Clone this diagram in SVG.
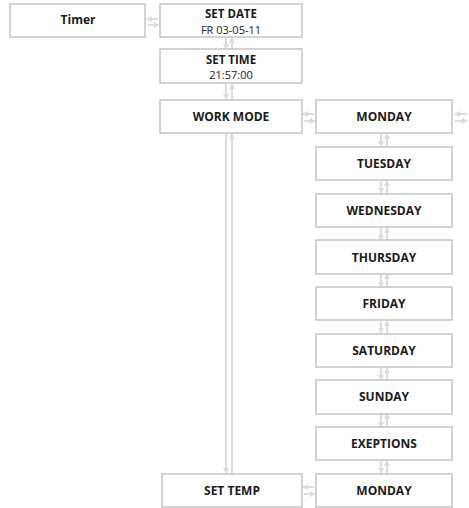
<svg xmlns="http://www.w3.org/2000/svg" width="469" height="508" viewBox="0 0 469 508">
<defs>
<marker id="ah" viewBox="0 0 6 6" refX="5" refY="3" markerWidth="3" markerHeight="3" orient="auto" markerUnits="strokeWidth">
<path d="M0,0 L6,3 L0,6 z" fill="#dcdcdc"/>
</marker>
</defs>
<style>
.box{fill:#fff;stroke:#c4c4c4;stroke-width:1.5}
.t{font-family:"Open Sans","Noto Sans",sans-serif;font-weight:bold;font-size:12px;fill:#1a1a1a;text-anchor:middle}
.t2{font-family:"Open Sans","Noto Sans",sans-serif;font-weight:bold;font-size:11.5px;fill:#1a1a1a;text-anchor:middle}
.s{font-family:"Open Sans","Noto Sans",sans-serif;font-size:11px;fill:#1a1a1a;text-anchor:middle}
.c{stroke:#dcdcdc;stroke-width:2;fill:none;marker-end:url(#ah)}
</style>
<rect width="469" height="508" fill="#fff"/>
<g id="connectors">
<path class="c" d="M158,19 H147"/>
<path class="c" d="M148,25 H159"/>
<path class="c" d="M226,38 V49"/>
<path class="c" d="M232,49 V38"/>
<path class="c" d="M226,84 V99"/>
<path class="c" d="M232,99 V84"/>
<path class="c" d="M314,114 H303"/>
<path class="c" d="M304,121 H315"/>
<path class="c" d="M467,114 H455"/>
<path class="c" d="M455,121 H467"/>
<path class="c" d="M226,134 V473"/>
<path class="c" d="M232,473 V134"/>
<path class="c" d="M381,134 V146"/>
<path class="c" d="M387,146 V134"/>
<path class="c" d="M381,181 V193"/>
<path class="c" d="M387,193 V181"/>
<path class="c" d="M381,228 V240"/>
<path class="c" d="M387,240 V228"/>
<path class="c" d="M381,274 V287"/>
<path class="c" d="M387,287 V274"/>
<path class="c" d="M381,321 V333"/>
<path class="c" d="M387,333 V321"/>
<path class="c" d="M381,368 V380"/>
<path class="c" d="M387,380 V368"/>
<path class="c" d="M381,414 V427"/>
<path class="c" d="M387,427 V414"/>
<path class="c" d="M381,461 V473"/>
<path class="c" d="M387,473 V461"/>
<path class="c" d="M314,487 H303"/>
<path class="c" d="M304,494 H315"/>
</g>
<g id="timer"><rect class="box" x="10" y="4" width="135" height="33"/><text class="t" x="78" y="24">Timer</text></g>
<g id="setdate"><rect class="box" x="160" y="4" width="142" height="33"/><text class="t2" x="231" y="18">SET DATE</text><text class="s" x="231" y="33.5">FR 03-05-11</text></g>
<g id="settime"><rect class="box" x="160" y="49" width="142" height="34"/><text class="t2" x="231" y="63.5">SET TIME</text><text class="s" x="231" y="79">21:57:00</text></g>
<g id="workmode"><rect class="box" x="160" y="100" width="142" height="33"/><text class="t" x="231" y="121">WORK MODE</text></g>
<g id="monday1"><rect class="box" x="316" y="100" width="136" height="33"/><text class="t" x="384" y="121">MONDAY</text></g>
<g id="tuesday"><rect class="box" x="316" y="147" width="136" height="33"/><text class="t" x="384" y="168">TUESDAY</text></g>
<g id="wednesday"><rect class="box" x="316" y="194" width="136" height="33"/><text class="t" x="384" y="215">WEDNESDAY</text></g>
<g id="thursday"><rect class="box" x="316" y="240" width="136" height="34"/><text class="t" x="384" y="262">THURSDAY</text></g>
<g id="friday"><rect class="box" x="316" y="287" width="136" height="33"/><text class="t" x="384" y="308">FRIDAY</text></g>
<g id="saturday"><rect class="box" x="316" y="334" width="136" height="33"/><text class="t" x="384" y="355">SATURDAY</text></g>
<g id="sunday"><rect class="box" x="316" y="380" width="136" height="34"/><text class="t" x="384" y="401">SUNDAY</text></g>
<g id="exeptions"><rect class="box" x="316" y="427" width="136" height="33"/><text class="t" x="384" y="448">EXEPTIONS</text></g>
<g id="monday2"><rect class="box" x="316" y="474" width="136" height="33"/><text class="t" x="384" y="495">MONDAY</text></g>
<g id="settemp"><rect class="box" x="162" y="474" width="140" height="33"/><text class="t" x="232" y="495">SET TEMP</text></g>
</svg>
